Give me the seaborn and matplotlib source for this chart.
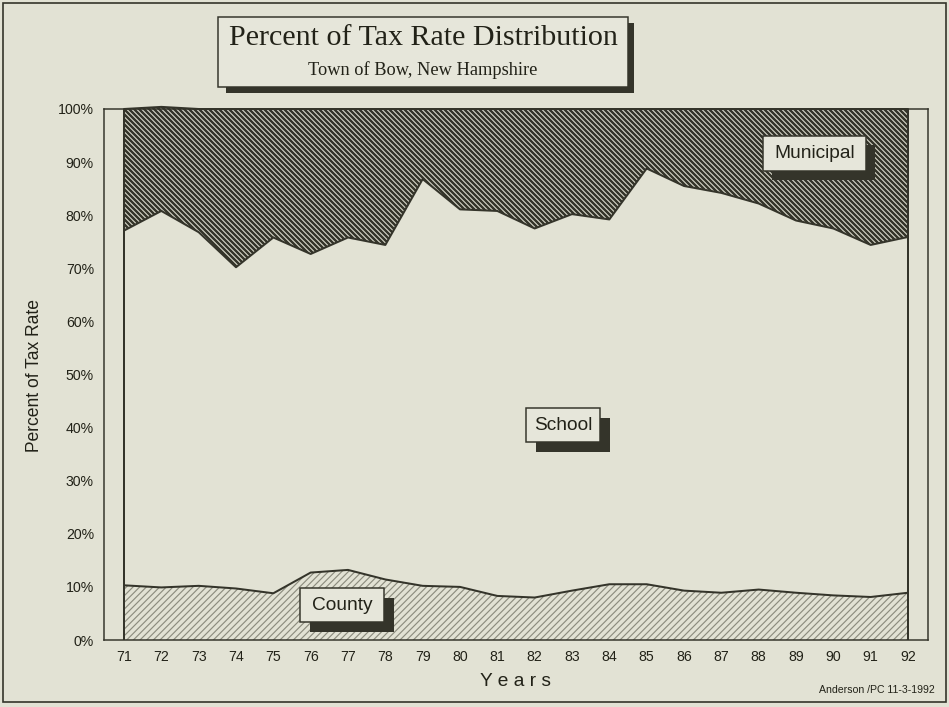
"""Percent of Tax Rate Distribution - Town of Bow, NH (stacked area, hatched)"""

import matplotlib

matplotlib.use("Agg")
import matplotlib.pyplot as plt
import pandas as pd
import seaborn as sns
from matplotlib import font_manager
from matplotlib.patches import Rectangle

# values (percent of total tax rate)
years = list(range(71, 93))
county = [10.3, 9.9, 10.2, 9.7, 8.8, 12.7, 13.2, 11.4, 10.2, 10.0, 8.3,
          8.0, 9.3, 10.5, 10.5, 9.3, 8.9, 9.5, 8.9, 8.4, 8.1, 8.9]
school = [66.8, 70.9, 66.6, 60.5, 67.0, 60.0, 62.6, 63.0, 76.6, 71.1, 72.5,
          69.5, 70.9, 68.7, 78.3, 76.2, 75.3, 72.7, 70.1, 69.1, 66.3, 67.0]
municipal = [22.9, 19.6, 23.2, 29.8, 24.2, 27.3, 24.2, 25.6, 13.2, 18.9, 19.2,
             22.5, 19.8, 20.8, 11.2, 14.5, 15.8, 17.8, 21.0, 22.5, 25.6, 24.1]
y_ticks = [0, 10, 20, 30, 40, 50, 60, 70, 80, 90, 100]

W, H, DPI = 949, 707, 120
BG = "#e2e2d4"
INK = "#34342a"
LIGHT_INK = "#8c8c7e"

sns.set_theme(style="white")
installed = {f.name for f in font_manager.fontManager.ttflist}
SANS = "Liberation Sans"
NARROW = "Liberation Sans Narrow" if "Liberation Sans Narrow" in installed else SANS
SERIF = "Liberation Serif"
plt.rcParams["font.family"] = [SANS, "DejaVu Sans"]

df = pd.DataFrame({"year": years, "county": county, "school": school, "municipal": municipal})
df["county_top"] = df["county"]
df["school_top"] = df["county"] + df["school"]
df["total"] = df["school_top"] + df["municipal"]


def fig_rect(x0, y0, x1, y1, **kw):
    """rectangle given in pixel coords (origin top-left)"""
    return Rectangle((x0 / W, 1 - y1 / H), (x1 - x0) / W, (y1 - y0) / H,
                     transform=fig.transFigure, **kw)


def label_box(x0, y0, x1, y1, text, size, family, shadow=10):
    fig.patches.append(fig_rect(x0 + shadow, y0 + shadow, x1 + shadow, y1 + shadow,
                                facecolor=INK, edgecolor="none", zorder=1))
    fig.patches.append(fig_rect(x0, y0, x1, y1, facecolor="#e6e6da",
                                edgecolor=INK, linewidth=0.9, zorder=1.5))
    fig.text((x0 + x1) / 2 / W, 1 - (y0 + y1) / 2 / H, text, ha="center", va="center",
             fontsize=size, family=family, color="#222218", zorder=3)


fig = plt.figure(figsize=(W / DPI, H / DPI), dpi=DPI, facecolor=BG)
ax = fig.add_axes([104 / W, 1 - 640 / H, (928 - 104) / W, (640 - 109) / H])
ax.set_facecolor(BG)

# hatch spacing: 2 * dpi / (6 * n) px  -> ~6.7 px county, ~5 px municipal
county_fill = ax.fill_between(df["year"], 0, df["county_top"], facecolor=BG,
                              edgecolor=LIGHT_INK, hatch="/" * 6, linewidth=0)
muni_fill = ax.fill_between(df["year"], df["school_top"], df["total"], facecolor=BG,
                            edgecolor=INK, hatch="\\" * 8, linewidth=0, clip_on=False)
for coll, hlw in ((county_fill, 0.7), (muni_fill, 1.5)):
    if hasattr(coll, "set_hatch_linewidth"):
        coll.set_hatch_linewidth(hlw)
plt.rcParams["hatch.linewidth"] = 1.5

for col in ("county_top", "school_top", "total"):
    sns.lineplot(data=df, x="year", y=col, color=INK, linewidth=1.2, ax=ax,
                 clip_on=False)
ax.vlines([years[0], years[-1]], 0, [df["total"].iloc[0], df["total"].iloc[-1]],
          color=INK, linewidth=1.2)

pad = 20 / ((908 - 124) / (years[-1] - years[0]))
ax.set_xlim(years[0] - pad, years[-1] + pad)
ax.set_ylim(0, 100)
ax.set_xticks(years)
ax.set_xticklabels([str(y) for y in years], family=[NARROW, "DejaVu Sans"],
                   fontsize=9.5 if NARROW != SANS else 8.5)
ax.set_yticks(y_ticks)
ax.set_yticklabels([f"{v}%" for v in y_ticks], fontsize=8.5)
ax.tick_params(direction="out", length=4.5, width=0.9, color=INK, labelcolor="#222218",
               pad=1.5)
ax.set_xlabel("")
ax.set_ylabel("")
for sp in ax.spines.values():
    sp.set_visible(True)
    sp.set_color(INK)
    sp.set_linewidth(0.9)

# outer frame
fig.patches.append(fig_rect(3, 3, 946, 702, fill=False, edgecolor=INK, linewidth=1.0, zorder=1))

# title box
fig.patches.append(fig_rect(226, 23, 634, 93, facecolor=INK, edgecolor="none", zorder=1))
fig.patches.append(fig_rect(218, 17, 628, 87, facecolor="#e6e6da", edgecolor=INK,
                            linewidth=0.9, zorder=1.5))
fig.text(423 / W, 1 - 38 / H, "Percent of Tax Rate Distribution", ha="center", va="center",
         fontsize=18, family=SERIF, color="#222218", zorder=3)
fig.text(423 / W, 1 - 70 / H, "Town of Bow, New Hampshire", ha="center", va="center",
         fontsize=11, family=SERIF, color="#222218", zorder=3)

label_box(763, 136, 866, 171, "Municipal", 11.5, [SANS, "DejaVu Sans"], shadow=9)
label_box(526, 408, 600, 442, "School", 11.5, [SANS, "DejaVu Sans"])
label_box(300, 588, 384, 622, "County", 11.5, [SANS, "DejaVu Sans"])

fig.text(35 / W, 1 - 375 / H, "Percent of Tax Rate", rotation=90, ha="center", va="center",
         fontsize=10.5, color="#222218")
fig.text(516 / W, 1 - 681 / H, "Y e a r s", ha="center", va="center", fontsize=11.5,
         color="#222218")
fig.text(935 / W, 1 - 690 / H, "Anderson /PC 11-3-1992", ha="right", va="center",
         fontsize=6.3, family=[NARROW, "DejaVu Sans"], color="#222218")

fig.savefig("out.png", dpi=DPI, facecolor=BG)
plt.close(fig)
